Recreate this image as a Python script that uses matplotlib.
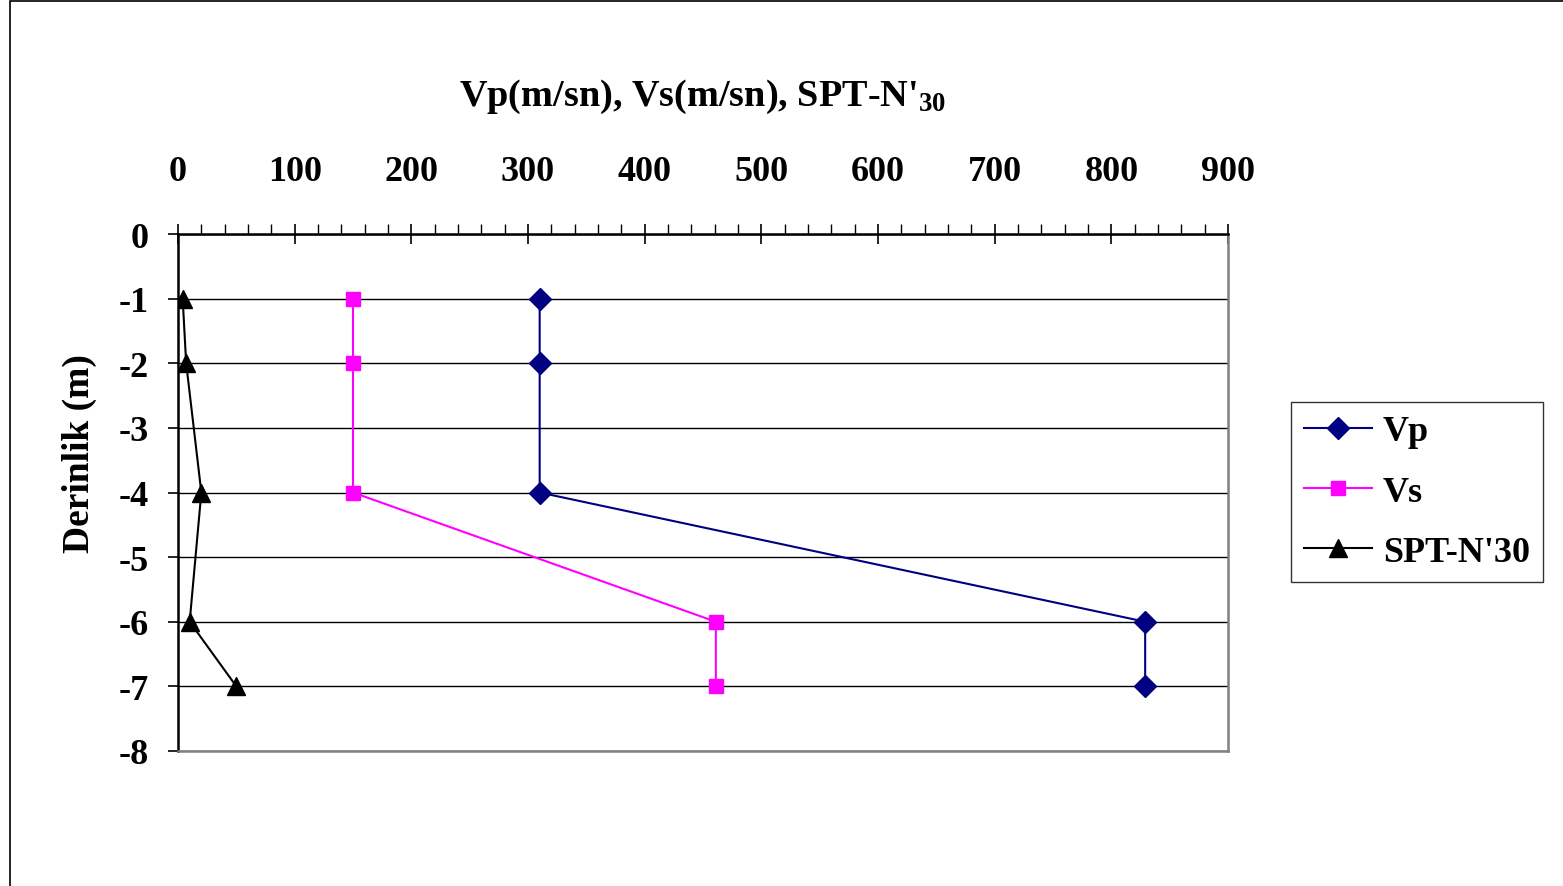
import matplotlib.pyplot as plt
from matplotlib.patches import Rectangle
from matplotlib.ticker import MultipleLocator

# depth (m) and measurements
depth = [-1, -2, -4, -6, -7]
vp = [310, 310, 310, 829, 829]
vs = [150, 150, 150, 461, 461]
spt = [4, 7, 20, 10, 50]

plt.rcParams['font.family'] = ['Liberation Serif', 'DejaVu Serif']
plt.rcParams['font.weight'] = 'bold'
plt.rcParams['axes.unicode_minus'] = False
plt.rcParams['mathtext.fontset'] = 'custom'
plt.rcParams['mathtext.rm'] = 'Liberation Serif:bold'
plt.rcParams['mathtext.it'] = 'Liberation Serif:bold'
plt.rcParams['mathtext.bf'] = 'Liberation Serif:bold'

FS = 26

fig = plt.figure(figsize=(15.63, 8.87), dpi=100)
ax = fig.add_axes([178 / 1563, 1 - 752 / 887, 1050 / 1563, (752 - 235) / 887])

ax.plot(vp, depth, color='#000080', marker='D', markersize=11, lw=1.5, label='Vp')
ax.plot(vs, depth, color='#FF00FF', marker='s', markersize=10, lw=1.5, label='Vs')
ax.plot(spt, depth, color='black', marker='^', markersize=13, lw=1.5, label="SPT-N'30")

ax.set_xlim(0, 900)
ax.set_ylim(-8, 0)
ax.xaxis.set_major_locator(MultipleLocator(100))
ax.xaxis.set_minor_locator(MultipleLocator(20))
ax.yaxis.set_major_locator(MultipleLocator(1))
ax.xaxis.tick_top()
ax.xaxis.set_label_position('top')
ax.tick_params(axis='x', which='major', direction='inout', length=14, width=1.2,
               labelsize=FS, pad=26)
ax.tick_params(axis='x', which='minor', direction='out', length=7, width=1)
ax.tick_params(axis='y', which='major', direction='out', length=7, width=1.2,
               labelsize=FS, pad=14)
for lab in ax.get_xticklabels() + ax.get_yticklabels():
    lab.set_fontweight('bold')

ax.grid(axis='y', color='black', lw=1)
ax.spines['top'].set_color('black')
ax.spines['left'].set_color('black')
ax.spines['right'].set_color('#808080')
ax.spines['bottom'].set_color('#808080')
for s in ax.spines.values():
    s.set_linewidth(1.8)

ax.set_xlabel("Vp(m/sn), Vs(m/sn), SPT-N'$_{30}$", fontsize=27.5,
              fontweight='bold', labelpad=36)
ax.set_ylabel('Derinlik (m)', fontsize=27, fontweight='bold')
ax.yaxis.set_label_coords(-0.077, 0.578)

leg = ax.legend(loc='center left', bbox_to_anchor=(1291 / 1563, 1 - 493 / 887),
                bbox_transform=fig.transFigure, fontsize=FS, frameon=True,
                fancybox=False, edgecolor='black', handlelength=1.9,
                labelspacing=0.75, borderpad=0.35, handletextpad=0.3,
                borderaxespad=0)
leg.get_frame().set_linewidth(1)
for t in leg.get_texts():
    t.set_fontweight('bold')

fig.patches.append(Rectangle((10 / 1563, -0.05), 1.1, 1.05 - 2 / 887,
                             transform=fig.transFigure, fill=False,
                             edgecolor='black', lw=1.2))

fig.savefig('out.png', dpi=100)
